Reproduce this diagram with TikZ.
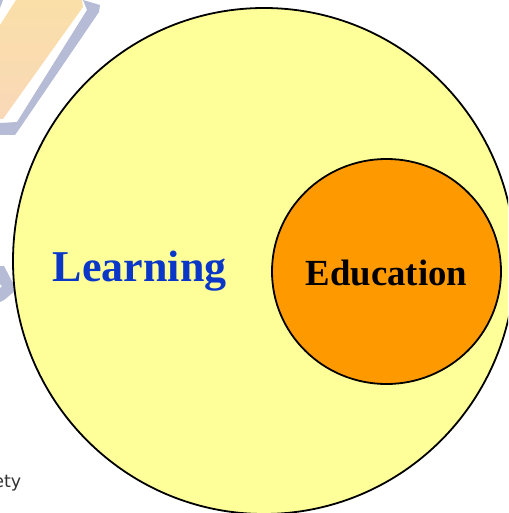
\documentclass[tikz,border=0pt]{standalone}
\usepackage{fontspec}
\usetikzlibrary{shapes.geometric}
\setmainfont{Liberation Serif}
\newfontfamily\etyfont{DejaVu Sans}
\definecolor{frameblue}{HTML}{B6BCD6}
\definecolor{panelfillA}{HTML}{FADFA8}
\definecolor{panelfillB}{HTML}{F9D8B8}
\definecolor{bigfill}{HTML}{FFFF99}
\definecolor{smallfill}{HTML}{FF9900}
\definecolor{learnblue}{HTML}{0A37C8}
\tikzset{
  venn/.style={draw=black,line width=1.8pt,ellipse,inner sep=0pt,outer sep=0pt},
  label/.style={font=\bfseries,inner sep=0pt,anchor=base}
}
\begin{document}
\begin{tikzpicture}[x=1pt,y=-1pt]
\useasboundingbox (0,0) rectangle (508,513);
\begin{scope}
\clip (0,0) rectangle (508,513);
% background panel fragment
\fill[frameblue] (83,0) -- (100,5) -- (99,12) -- (22,125) -- (15,135) -- (0,135) -- (0,123) -- (17,122) -- (87,10) -- cycle;
\shade[bottom color=panelfillB,top color=panelfillA,shading angle=0] (16,0) -- (82,0) -- (83,7) -- (3,119) -- (0,119) -- (0,25) -- cycle;
\fill[frameblue] (0,0) -- (3,0) -- (0,8) -- cycle;
\fill[frameblue] (0,266) -- (4,266) -- (15,287) -- (15,291) -- (4,300) -- (0,302) -- (0,288) -- (2,286) -- (0,284) -- cycle;
\node[font={\etyfont\fontsize{17.5}{20}\selectfont},text=black!80,inner sep=0pt,anchor=base east] (ety) at (21.5,487) {ety};
% circles
\node[venn,fill=bigfill,minimum width=502pt,minimum height=506pt] (big) at (264,261) {};
\node[venn,fill=smallfill,minimum width=229pt,minimum height=225pt] (small) at (386.5,271.5) {};
\node[label,font={\bfseries\fontsize{44}{50}\selectfont},text=learnblue] (learning) at (139.7,281) {Learning};
\node[label,font={\bfseries\fontsize{36.8}{40}\selectfont},text=black] (education) at (386.5,285) {Education};
\end{scope}
\end{tikzpicture}
\end{document}
